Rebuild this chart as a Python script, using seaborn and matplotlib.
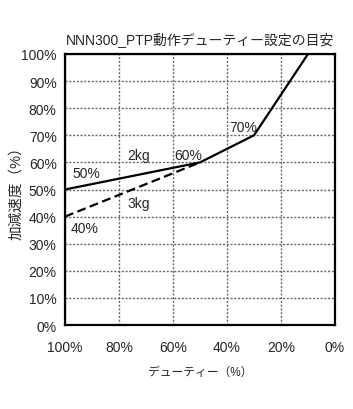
import matplotlib
matplotlib.use("Agg")
import matplotlib.pyplot as plt
import seaborn as sns
import pandas as pd

sns.set_style("white")
plt.rcParams['font.family'] = ['Liberation Sans', 'Noto Sans CJK JP', 'DejaVu Sans']

# duty (%) vs acceleration (%)
duty_2kg = [100, 50, 30, 10]
acc_2kg = [50, 60, 70, 100]
duty_3kg = [100, 50]
acc_3kg = [40, 60]

series_labels = ['2kg', '3kg']
point_labels = ['50%', '60%', '70%', '40%']

xticks = [100, 80, 60, 40, 20, 0]
yticks = list(range(0, 101, 10))

df2 = pd.DataFrame({'duty': duty_2kg, 'acc': acc_2kg})
df3 = pd.DataFrame({'duty': duty_3kg, 'acc': acc_3kg})

fig = plt.figure(figsize=(3.53, 4.10), dpi=100)
ax = fig.add_axes([65/353, 1 - 326/410, 270/353, 271/410])

sns.lineplot(data=df2, x='duty', y='acc', ax=ax, color='black', lw=1.6, sort=False)
sns.lineplot(data=df3, x='duty', y='acc', ax=ax, color='black', lw=1.6,
             linestyle=(0, (4, 2)), sort=False)

ax.set_xlim(100, 0)
ax.set_ylim(0, 100)
ax.set_xticks(xticks)
ax.set_xticklabels([f'{v}%' for v in xticks])
ax.set_yticks(yticks)
ax.set_yticklabels([f'{v}%' for v in yticks])
ax.tick_params(length=0, labelsize=10, pad=6)
ax.tick_params(axis='x', pad=11)
ax.grid(True, color='#666666', linestyle=(0, (1.5, 1.2)), lw=1)
for s in ax.spines.values():
    s.set_color('black')
    s.set_linewidth(1.6)

# annotations (left edge, vertical centre)
kw = dict(fontsize=10, va='center', ha='left')
ax.text(97.4, 56.1, point_labels[0], **kw)
ax.text(59.6, 62.7, point_labels[1], **kw)
ax.text(39.3, 73.1, point_labels[2], **kw)
ax.text(98.1, 35.8, point_labels[3], **kw)
ax.text(77.0, 62.7, series_labels[0], **kw)
ax.text(77.0, 45.0, series_labels[1], **kw)

ax.set_title('NNN300_PTP動作デューティー設定の目安', fontsize=10, pad=7)
ax.set_xlabel('デューティー（%）', fontsize=8.5, labelpad=8)
ax.set_ylabel('加減速度（%）', fontsize=10.5)
ax.yaxis.set_label_coords((23 - 65) / 270, (326 - 190) / 271)

fig.savefig('out.png', dpi=100)
